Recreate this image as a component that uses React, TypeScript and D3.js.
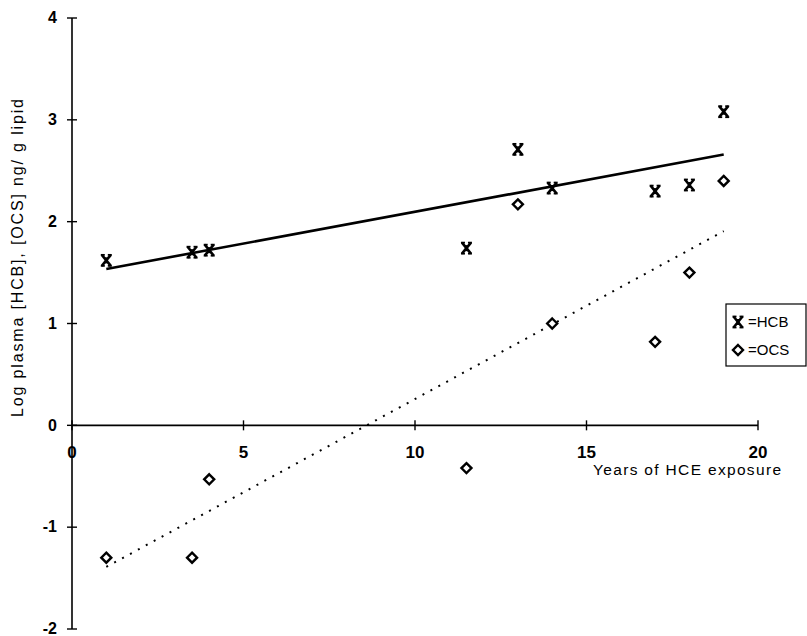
import React from "react";
import * as d3 from "d3";

// years of HCE exposure for each worker
const years = [1, 3.5, 4, 11.5, 13, 14, 17, 18, 19];
// log plasma concentrations, ng/g lipid
const hcb = [1.62, 1.7, 1.72, 1.74, 2.71, 2.33, 2.3, 2.36, 3.08];
const ocs = [-1.3, -1.3, -0.53, -0.42, 2.17, 1.0, 0.82, 1.5, 2.4];

const xTicks = [0, 5, 10, 15, 20];
const yTicks = [-2, -1, 0, 1, 2, 3, 4];

const W = 807;
const H = 636;
const FONT = "'Liberation Sans', Arial, sans-serif";

// least squares fit of y on x
function fit(xs: number[], ys: number[]) {
  const mx = d3.mean(xs) as number;
  const my = d3.mean(ys) as number;
  let sxy = 0, sxx = 0;
  xs.forEach((x, i) => {
    sxy += (x - mx) * (ys[i] - my);
    sxx += (x - mx) * (x - mx);
  });
  const b = sxy / sxx;
  return { a: my - b * mx, b };
}

function Star({ cx, cy }: { cx: number; cy: number }) {
  const w = 4.5, h = 5.5;
  return (
    <g stroke="#000" strokeWidth={2.6} fill="none">
      <line x1={cx - w} y1={cy - h} x2={cx + w} y2={cy + h} />
      <line x1={cx + w} y1={cy - h} x2={cx - w} y2={cy + h} />
      <line x1={cx} y1={cy - 3} x2={cx} y2={cy + 3} />
      <line x1={cx - w - 1} y1={cy - h} x2={cx - w + 3} y2={cy - h} strokeWidth={1.8} />
      <line x1={cx + w - 3} y1={cy - h} x2={cx + w + 1} y2={cy - h} strokeWidth={1.8} />
      <line x1={cx - w - 1} y1={cy + h} x2={cx - w + 3} y2={cy + h} strokeWidth={1.8} />
      <line x1={cx + w - 3} y1={cy + h} x2={cx + w + 1} y2={cy + h} strokeWidth={1.8} />
    </g>
  );
}

function Diamond({ cx, cy }: { cx: number; cy: number }) {
  const r = 5;
  return (
    <path
      d={`M${cx},${cy - r}L${cx + r},${cy}L${cx},${cy + r}L${cx - r},${cy}Z`}
      fill="#fff"
      stroke="#000"
      strokeWidth={2.4}
    />
  );
}

export default function App() {
  const x = d3.scaleLinear().domain([0, 20]).range([72, 758]);
  const y = d3.scaleLinear().domain([-2, 4]).range([629, 18]);

  const line = d3
    .line<[number, number]>()
    .x((d) => x(d[0]))
    .y((d) => y(d[1]));

  const fh = fit(years, hcb);
  const fo = fit(years, ocs);
  const x0 = d3.min(years) as number;
  const x1 = d3.max(years) as number;
  const hcbFit: [number, number][] = [[x0, fh.a + fh.b * x0], [x1, fh.a + fh.b * x1]];
  const ocsFit: [number, number][] = [[x0, fo.a + fo.b * x0], [x1, fo.a + fo.b * x1]];

  return (
    <svg
      width={W}
      height={H}
      style={{ position: "absolute", left: 0, top: 0, background: "#fff" }}
      fontFamily={FONT}
    >
      {/* axes */}
      <line x1={x(0)} x2={x(0)} y1={y(4)} y2={y(-2)} stroke="#000" strokeWidth={1.6} />
      <line x1={x(0)} x2={x(20)} y1={y(0)} y2={y(0)} stroke="#000" strokeWidth={1.6} />
      {yTicks.map((t) => (
        <g key={"y" + t}>
          <line x1={x(0) - 5} x2={x(0) + 5} y1={y(t)} y2={y(t)} stroke="#000" strokeWidth={1.4} />
          <text x={57} y={y(t)} dy="0.33em" textAnchor="end" fontSize={16} fontWeight="bold">
            {t}
          </text>
        </g>
      ))}
      {xTicks.map((t) => (
        <g key={"x" + t}>
          <line x1={x(t)} x2={x(t)} y1={y(0) - 5} y2={y(0) + 5} stroke="#000" strokeWidth={1.4} />
          <text x={x(t)} y={y(0) + 27} dy="0.35em" textAnchor="middle" fontSize={17} fontWeight="bold">
            {t}
          </text>
        </g>
      ))}

      {/* axis titles */}
      <text
        transform={`translate(23,258) rotate(-90)`}
        textAnchor="middle"
        fontSize={16}
        textLength={318}
        lengthAdjust="spacing"
      >
        Log plasma [HCB], [OCS] ng/ g lipid
      </text>
      <text x={593} y={y(0) + 50} fontSize={15.5} textLength={188} lengthAdjust="spacing">
        Years of HCE exposure
      </text>

      {/* trend lines */}
      <path d={line(hcbFit) || ""} stroke="#000" strokeWidth={2.6} fill="none" />
      <path
        d={line(ocsFit) || ""}
        stroke="#000"
        strokeWidth={2}
        strokeDasharray="2,7"
        fill="none"
      />

      {/* points */}
      {years.map((yr, i) => (
        <Star key={"h" + i} cx={x(yr)} cy={y(hcb[i])} />
      ))}
      {years.map((yr, i) => (
        <Diamond key={"o" + i} cx={x(yr)} cy={y(ocs[i])} />
      ))}

      {/* legend */}
      <rect x={726} y={304} width={80} height={62} fill="#fff" stroke="#000" strokeWidth={1.2} />
      <Star cx={738} cy={322} />
      <text x={748} y={322} dy="0.35em" fontSize={15}>=HCB</text>
      <Diamond cx={738} cy={350} />
      <text x={748} y={350} dy="0.35em" fontSize={15}>=OCS</text>
    </svg>
  );
}
